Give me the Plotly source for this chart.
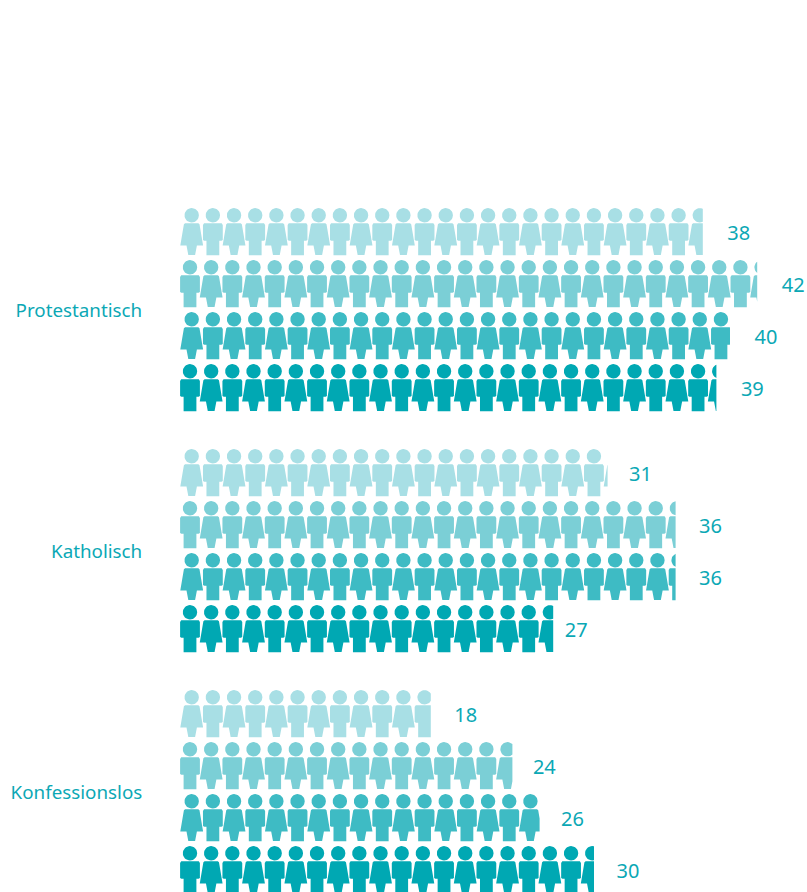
import math
import plotly.graph_objects as go

groups = ["Protestantisch", "Katholisch", "Konfessionslos"]
series_a = [38, 31, 18]
series_b = [42, 36, 24]
series_c = [40, 36, 26]
series_d = [39, 27, 30]
colors = ["#a8dfe5", "#7bcfd6", "#3ebbc4", "#00a8b3"]
text_color = "#0ba8b5"
# small horizontal label nudges in pixels, by series then group
label_nudge = [[2, -1, 1], [2, 1, -2], [2, 1, -1], [2, -11, 0]]

W, H = 807, 892
LEFT = 170
ZERO_PX = 186.0
PX_PER_UNIT = 13.6
PITCH = 21.17 / PX_PER_UNIT
ROW_GAP, GROUP_GAP, FIRST_ROW = 52, 241, 215.3


def u(px):
    return px / PX_PER_UNIT


def circle(cx, cy, r, n=32):
    return [(cx + u(r) * math.cos(2 * math.pi * i / n), cy + r * math.sin(2 * math.pi * i / n)) for i in range(n)]


def man(cx, cy):
    o = [(-9.9, 9.6), (-8.8, 8.0), (8.8, 8.0), (9.9, 9.6), (9.9, 24.6), (8.6, 25.4), (6.4, 25.4),
         (6.4, 40.0), (-6.4, 40.0), (-6.4, 25.4), (-8.6, 25.4), (-9.9, 24.6)]
    return [(cx + u(a), cy + b) for a, b in o]


def woman(cx, cy):
    o = [(-6.6, 8.0), (6.6, 8.0), (7.8, 9.0), (11.4, 30.2), (5.2, 30.2), (3.4, 39.8), (-3.4, 39.8),
         (-5.2, 30.2), (-11.4, 30.2), (-7.8, 9.0)]
    return [(cx + u(a), cy + b) for a, b in o]


def clip_right(poly, limit):
    out = []
    for i, (x1, y1) in enumerate(poly):
        x2, y2 = poly[(i + 1) % len(poly)]
        if x1 <= limit:
            out.append((x1, y1))
        if (x1 <= limit) != (x2 <= limit):
            out.append((limit, y1 + (y2 - y1) * (limit - x1) / (x2 - x1)))
    return out


def row_path(value, cy, start_woman):
    first = u(191.7 - ZERO_PX) if start_woman else u(190.0 - ZERO_PX)
    xs, ys = [], []
    k = 0
    while first + k * PITCH - u(12) < value:
        cx = first + k * PITCH
        is_woman = (k % 2 == 0) == start_woman
        body = woman(cx, cy) if is_woman else man(cx, cy)
        for poly in (circle(cx, cy, 7.2), body):
            clipped = clip_right(poly, value)
            if clipped:
                xs += [p[0] for p in clipped] + [clipped[0][0], None]
                ys += [p[1] for p in clipped] + [clipped[0][1], None]
        k += 1
    return xs, ys


fig = go.Figure()
for s, (vals, col) in enumerate(zip([series_a, series_b, series_c, series_d], colors)):
    for g, v in enumerate(vals):
        cy = FIRST_ROW + g * GROUP_GAP + s * ROW_GAP
        xs, ys = row_path(v, cy, s % 2 == 0)
        fig.add_trace(go.Scatter(x=xs, y=ys, mode="lines", fill="toself", fillcolor=col,
                                 line=dict(width=0, color=col), hoverinfo="skip", showlegend=False))
    fig.add_trace(go.Scatter(
        x=[v + u(22.5 + label_nudge[s][g]) for g, v in enumerate(vals)],
        y=[FIRST_ROW + g * GROUP_GAP + s * ROW_GAP + 19.7 for g in range(len(vals))],
        mode="text", text=[str(v) for v in vals], textposition="middle right",
        textfont=dict(family="Noto Sans", size=20, color=text_color),
        cliponaxis=False, hoverinfo="skip", showlegend=False))

tick_y = [FIRST_ROW + g * GROUP_GAP + 95.5 for g in range(len(groups))]
fig.update_layout(
    width=W, height=H, margin=dict(l=LEFT, r=0, t=0, b=0),
    paper_bgcolor="white", plot_bgcolor="white", showlegend=False,
    xaxis=dict(range=[(LEFT - ZERO_PX) / PX_PER_UNIT, (W - ZERO_PX) / PX_PER_UNIT], visible=False, fixedrange=True),
    yaxis=dict(range=[H, 0], showgrid=False, zeroline=False, showline=False, tickmode="array",
               tickvals=tick_y, ticktext=groups, ticks="outside", ticklen=23, tickcolor="rgba(0,0,0,0)",
               tickfont=dict(family="Noto Sans", size=18.8, color=text_color), fixedrange=True),
)
fig.write_html("out.html", config={"displayModeBar": False},
               post_script="document.body.style.margin='0';")
